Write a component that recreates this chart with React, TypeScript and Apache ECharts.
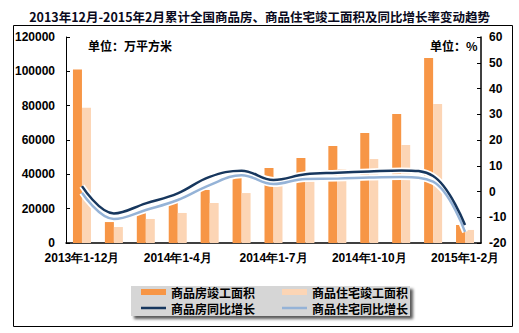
import React, { useEffect, useRef } from "react";
import * as echarts from "echarts";

const categories = [
  "2013年1-12月", "2014年1-2月", "2014年1-3月", "2014年1-4月", "2014年1-5月",
  "2014年1-6月", "2014年1-7月", "2014年1-8月", "2014年1-9月", "2014年1-10月",
  "2014年1-11月", "2014年1-12月", "2015年1-2月",
];
const commercialArea = [101000, 12200, 18600, 23300, 30900, 38000, 43700, 49500, 56500, 64100, 75100, 107800, 10500];
const residentialArea = [78800, 9300, 14000, 17500, 23300, 29100, 33800, 38600, 43100, 48900, 57100, 81000, 7600];
const commercialGrowth = [2.1, -8.5, -4.6, -0.7, 5.7, 8.1, 4.5, 6.7, 7.3, 7.8, 8.2, 6.0, -13.0];
const residentialGrowth = [-0.5, -10.7, -7.2, -3.3, 2.5, 6.3, 2.9, 4.9, 5.0, 5.4, 5.6, 3.8, -15.7];
const leftTicks = { min: 0, max: 120000, interval: 20000 };
const rightTicks = { min: -20, max: 60, interval: 10 };

const NUM = "Liberation Sans, Arial, sans-serif";
const CJK = "Noto Sans CJK SC, sans-serif";

export default function App() {
  const ref = useRef<HTMLDivElement>(null);
  useEffect(() => {
    const chart = echarts.init(ref.current!, null, { renderer: "svg" });
    const axisLabel = { color: "#000", fontFamily: NUM, fontWeight: "bold", fontSize: 12, formatter: (v: any) => String(v) };
    const legendCommon = {
      left: 141,
      padding: 0,
      itemGap: 27,
      itemWidth: 25,
      textStyle: { fontFamily: CJK, fontWeight: "bold", fontSize: 12, lineHeight: 14, color: "#000" },
    };
    chart.setOption({
      animation: false,
      backgroundColor: "#fff",
      title: {
        text: "2013年12月-2015年2月累计全国商品房、商品住宅竣工面积及同比增长率变动趋势",
        left: "center",
        top: 5,
        textStyle: { fontFamily: CJK, fontWeight: "bold", fontSize: 12.5, color: "#0a0a20" },
      },
      graphic: [
        { type: "rect", shape: { x: 13.5, y: 25.5, width: 499, height: 301 }, style: { fill: "none", stroke: "#000", lineWidth: 1 }, z: 100 },
        {
          type: "rect", shape: { x: 131, y: 286, width: 279, height: 30 },
          style: { fill: "#d6d6d6", shadowColor: "rgba(0,0,0,0.65)", shadowBlur: 3, shadowOffsetX: 3, shadowOffsetY: 3 },
          z: 0,
        },
        { type: "text", x: 88, y: 39, style: { text: "单位：万平方米", font: `bold 12px ${CJK}`, fill: "#000" } },
        { type: "text", x: 430, y: 39, style: { text: "单位：%", font: `bold 12px ${CJK}`, fill: "#000" } },
      ],
      legend: [
        {
          ...legendCommon,
          top: 285,
          itemHeight: 6,
          data: [
            { name: "商品房竣工面积", icon: "rect" },
            { name: "商品住宅竣工面积", icon: "rect" },
          ],
        },
        {
          ...legendCommon,
          top: 301,
          itemHeight: 2.5,
          data: [
            { name: "商品房同比增长", icon: "rect" },
            { name: "商品住宅同比增长", icon: "rect" },
          ],
        },
      ],
      grid: { left: 66, right: 38, top: 37, bottom: 90 },
      xAxis: {
        type: "category",
        data: categories,
        boundaryGap: true,
        axisLine: { lineStyle: { color: "#000", width: 1.5 } },
        axisTick: { interval: 0, inside: true, length: 4, lineStyle: { color: "#000" } },
        axisLabel: { ...axisLabel, interval: 2, margin: 9 },
      },
      yAxis: [
        {
          type: "value",
          ...leftTicks,
          axisLine: { show: true, lineStyle: { color: "#000", width: 1 } },
          axisTick: { show: true, inside: true, length: 4, lineStyle: { color: "#000" } },
          splitLine: { show: false },
          axisLabel: { ...axisLabel, margin: 11 },
        },
        {
          type: "value",
          ...rightTicks,
          position: "right",
          axisLine: { show: true, lineStyle: { color: "#000", width: 1.5 } },
          axisTick: { show: true, inside: true, length: 4, lineStyle: { color: "#000" } },
          splitLine: { show: false },
          axisLabel: { ...axisLabel, margin: 8 },
        },
      ],
      series: [
        { name: "商品房竣工面积", type: "bar", data: commercialArea, barWidth: 9, barGap: "0%", itemStyle: { color: "#F79646" }, z: 2 },
        { name: "商品住宅竣工面积", type: "bar", data: residentialArea, barWidth: 9, barGap: "0%", itemStyle: { color: "#FCD5B5" }, z: 2 },
        { name: "halo1", type: "line", yAxisIndex: 1, data: commercialGrowth, smooth: 0.4, symbol: "none", lineStyle: { color: "#fff", width: 6 }, z: 3, silent: true },
        { name: "halo2", type: "line", yAxisIndex: 1, data: residentialGrowth, smooth: 0.4, symbol: "none", lineStyle: { color: "#fff", width: 6 }, z: 3, silent: true },
        { name: "商品房同比增长", type: "line", yAxisIndex: 1, data: commercialGrowth, smooth: 0.4, symbol: "none", itemStyle: { color: "#17375E" }, lineStyle: { color: "#17375E", width: 2.5 }, z: 5 },
        { name: "商品住宅同比增长", type: "line", yAxisIndex: 1, data: residentialGrowth, smooth: 0.4, symbol: "none", itemStyle: { color: "#95B3D7" }, lineStyle: { color: "#95B3D7", width: 2.5 }, z: 4 },
      ],
    });
    return () => chart.dispose();
  }, []);
  return <div ref={ref} style={{ position: "fixed", left: 0, top: 0, width: 519, height: 333 }} />;
}
